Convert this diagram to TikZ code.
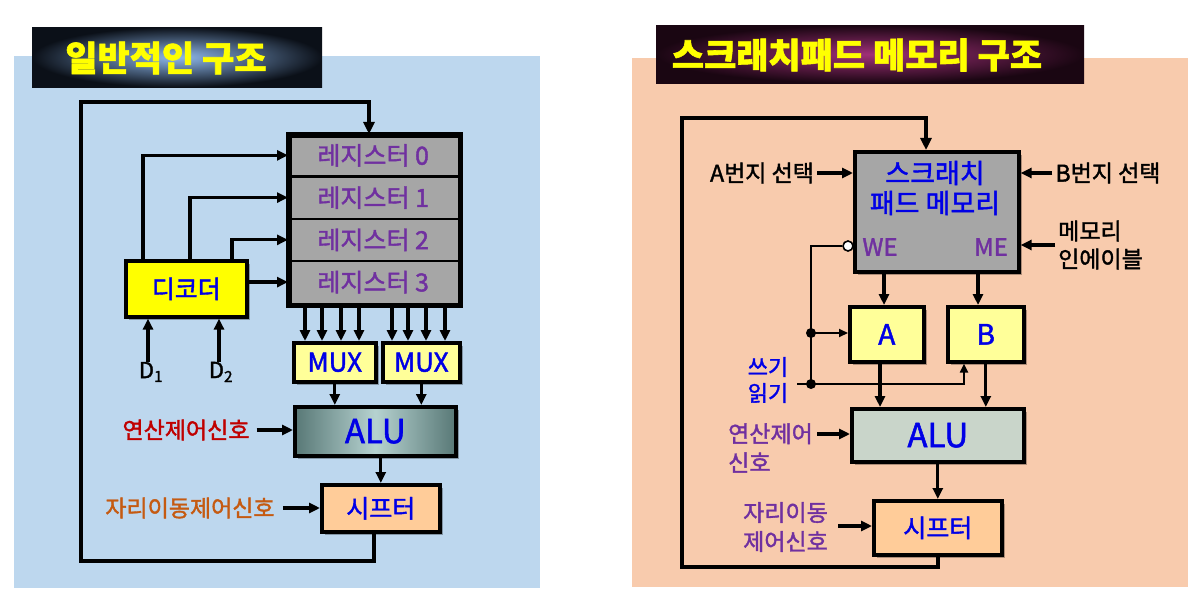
\documentclass[tikz,border=0pt]{standalone}
\usepackage{fontspec}
\setmainfont{Noto Sans CJK KR}[FakeBold=1.6]
\usetikzlibrary{arrows.meta,shadows}
\definecolor{bgblue}{HTML}{BDD7EE}
\definecolor{bgpeach}{HTML}{F8CBAD}
\definecolor{regGray}{HTML}{A6A6A6}
\definecolor{purpleC}{HTML}{7030A0}
\definecolor{blueT}{HTML}{0000E6}
\definecolor{redC}{HTML}{C00000}
\definecolor{orangeC}{HTML}{C55A11}
\definecolor{muxY}{HTML}{FFFF99}
\definecolor{decY}{HTML}{FFFF00}
\definecolor{shiftC}{HTML}{FFCC99}
\definecolor{aluD}{HTML}{587876}
\definecolor{aluL}{HTML}{B6D2D0}
\definecolor{aluR}{HTML}{C9D5CA}
\definecolor{titleY}{HTML}{FFFF00}
\definecolor{glowB}{HTML}{8EB8EC}
\definecolor{darkB}{HTML}{0B1018}
\definecolor{glowM}{HTML}{A03078}
\definecolor{darkM}{HTML}{1A0612}
\tikzset{
  myshadow/.style={drop shadow={shadow xshift=3pt,shadow yshift=-3pt,opacity=0.3,fill=black}},
  arr/.style={line width=3.2pt,-{Triangle[length=11pt,width=10pt]}},
  tarr/.style={line width=2pt,-{Triangle[length=9pt,width=8pt]}},
  loopline/.style={line width=3.6pt,-{Triangle[length=12pt,width=11pt]}},
  box/.style={draw=black,line width=3.6pt,inner sep=0pt,anchor=north west,myshadow},
  lbl/.style={font=\fontsize{23}{29}\selectfont,inner sep=3pt},
  regtxt/.style={font=\fontsize{25}{28}\selectfont,text=purpleC,inner sep=0pt},
  boxtxt/.style={text=blueT,font=\fontsize{25}{28}\selectfont},
  dotn/.style={circle,fill=black,inner sep=0pt,minimum size=10pt},
  titletxt/.style={text=titleY,font=\fontsize{35}{40}\selectfont\bfseries},
}
\begin{document}
\begin{tikzpicture}[x=1pt,y=-1pt]
\useasboundingbox (0,0) rectangle (1204,604);
\fill[white] (0,0) rectangle (1204,604);
% ================= LEFT PANEL =================
\fill[bgblue] (14,56) rectangle (540,588);
\node[anchor=north west,minimum width=290pt,minimum height=60pt,inner sep=0pt,
      inner color=glowB,outer color=darkB] (tL) at (32,27) {};
\node[titletxt] (tLt) at (166,58) {일반적인 구조};
% registers
\node[box,fill=regGray,minimum width=170pt,minimum height=169pt] (regs) at (288,134) {};
\foreach \i in {0,...,3}
  \node[regtxt,minimum width=170pt,minimum height=42.25pt,anchor=north west] (reg\i) at (288,{134+42.25*\i}) {레지스터 \i};
\foreach \i in {0,1,2}
  \draw[line width=2.4pt] (reg\i.south west) -- (reg\i.south east);
\draw[line width=3.6pt] (regs.north west) rectangle (regs.south east);
% decoder
\node[box,fill=decY,minimum width=121pt,minimum height=56pt,boxtxt] (dec) at (124,259) {디코더};
\coordinate (c0) at (143,0);
\coordinate (c1) at (190,0);
\coordinate (c2) at (232,0);
\draw[arr] (dec.north -| c0) |- (reg0.west);
\draw[arr] (dec.north -| c1) |- (reg1.west);
\draw[arr] (dec.north -| c2) |- (reg2.west);
\draw[arr] (dec.east |- reg3.west) -- (reg3.west);
% D1 D2
\node[font=\fontsize{22}{26}\selectfont,inner sep=2pt] (d1) at (151,372) {D\textsubscript{1}};
\node[font=\fontsize{22}{26}\selectfont,inner sep=2pt] (d2) at (221,372) {D\textsubscript{2}};
\coordinate (dx1) at (148,0);
\coordinate (dx2) at (219,0);
\draw[arr] ([yshift=-2pt]d1.north -| dx1) -- (dec.south -| dx1);
\draw[arr] ([yshift=-2pt]d2.north -| dx2) -- (dec.south -| dx2);
% MUX
\node[box,fill=muxY,minimum width=82pt,minimum height=39pt,text=blueT,font=\fontsize{26}{28}\selectfont] (mux1) at (292,341) {MUX};
\node[box,fill=muxY,minimum width=77pt,minimum height=39pt,text=blueT,font=\fontsize{26}{28}\selectfont] (mux2) at (381,341) {MUX};
\foreach \x in {305,322,341,359} {
  \coordinate (t) at (\x,0);
  \draw[arr] (regs.south -| t) -- (mux1.north -| t);
}
\foreach \x in {392,408,426,445} {
  \coordinate (t) at (\x,0);
  \draw[arr] (regs.south -| t) -- (mux2.north -| t);
}
% ALU
\node[box,minimum width=161pt,minimum height=49pt,left color=aluD,right color=aluD,middle color=aluL,
      text=blueT,font=\fontsize{33}{36}\selectfont] (alu) at (293,405) {ALU};
\draw[arr] (mux1.south) -- (alu.north -| mux1.south);
\draw[arr] (mux2.south) -- (alu.north -| mux2.south);
\node[lbl,text=redC] (opL) at (186,430) {연산제어신호};
\draw[arr] ([xshift=4pt]opL.east) -- (alu.west |- opL.east);
% shifter
\node[box,fill=shiftC,minimum width=118pt,minimum height=47pt,boxtxt] (sh) at (320,483) {시프터\hspace{8pt}};
\draw[arr] (alu.south -| sh.north) -- (sh.north);
\node[lbl,text=orangeC] (shL) at (190,508) {자리이동제어신호};
\draw[arr] ([xshift=5pt]shL.east) -- (sh.west |- shL.east);
% loop
\coordinate (lb) at (81,561);
\coordinate (lt) at (81,102);
\coordinate (lx) at (369,0);
\coordinate (sx) at (374,0);
\draw[loopline] (sh.south -| sx) -- (lb -| sx) -- (lb) -- (lt) -- (lt -| lx) -- (regs.north -| lx);
% ================= RIGHT PANEL =================
\fill[bgpeach] (632,58) rectangle (1188,587);
\node[anchor=north west,minimum width=428pt,minimum height=58pt,inner sep=0pt,
      inner color=glowM,outer color=darkM] (tR) at (656,25) {};
\node[titletxt] (tRt) at (857,55) {스크래치패드 메모리 구조};
% scratchpad memory
\node[box,fill=regGray,minimum width=164pt,minimum height=120pt] (spm) at (853,150) {};
\node[text=blueT,font=\fontsize{27}{30}\selectfont,align=center,inner sep=0pt] (spmt) at (935,188) {스크래치\\패드 메모리};
\node[text=purpleC,font=\fontsize{24}{26}\selectfont,inner sep=0pt] (we) at (880,247) {WE};
\node[text=purpleC,font=\fontsize{24}{26}\selectfont,inner sep=0pt] (me) at (991,247) {ME};
\node[lbl] (asel) at (762,173) {A번지 선택};
\draw[arr] (asel.east) -- (spm.west |- asel.east);
\node[lbl] (bsel) at (1108,173) {B번지 선택};
\draw[arr] (bsel.west) -- (spm.east |- bsel.west);
\node[lbl,align=left,anchor=west,font=\fontsize{23}{28}\selectfont] (men) at (1055,245) {메모리\\인에이블};
\draw[arr] (men.west) -- (spm.east |- men.west);
% A, B registers
\node[box,fill=muxY,minimum width=74pt,minimum height=55pt,text=blueT,font=\fontsize{28}{30}\selectfont] (Abox) at (848,305) {A};
\node[box,fill=muxY,minimum width=76pt,minimum height=55pt,text=blueT,font=\fontsize{28}{30}\selectfont] (Bbox) at (946,305) {B};
\coordinate (ax) at (884,0);
\coordinate (bx) at (978,0);
\draw[arr] (spm.south -| ax) -- (Abox.north -| ax);
\draw[arr] (spm.south -| bx) -- (Bbox.north -| bx);
% WE / read-write control
\node[circle,draw=black,fill=white,line width=1.6pt,inner sep=0pt,minimum size=10pt] (wec) at (848,246) {};
\node[dotn] (ja) at (811,333) {};
\node[dotn] (jr) at (811,384) {};
\draw[line width=2pt] (wec.west) -| (jr.center);
\draw[tarr] (ja.center) -- (Abox.west |- ja.center);
\coordinate (rd) at (797,384);
\coordinate (bup) at (964,0);
\draw[tarr] (rd) -| (Bbox.south -| bup);
\node[text=blueT,font=\fontsize{22}{26}\selectfont,align=center,inner sep=0pt] (rw) at (768,380) {쓰기\\읽기};
% ALU right
\node[box,fill=aluR,minimum width=172pt,minimum height=53pt,text=blueT,font=\fontsize{33}{36}\selectfont] (alu2) at (850,407) {ALU\hspace{18pt}};
\coordinate (ax2) at (880,0);
\draw[arr] (Abox.south -| ax2) -- (alu2.north -| ax2);
\draw[arr] (Bbox.south) -- (alu2.north -| Bbox.south);
\node[lbl,align=left,anchor=west,text=purpleC] (opR) at (725,448) {연산제어\\신호};
\coordinate (opa) at (817,434);
\draw[arr] (opa) -- (alu2.west |- opa);
% shifter right
\node[box,fill=shiftC,minimum width=128pt,minimum height=54pt,boxtxt] (sh2) at (872,499) {시프터\hspace{18pt}};
\draw[arr] (alu2.south -| sh2.north) -- (sh2.north);
\node[lbl,align=left,anchor=west,text=purpleC] (shR) at (740,527) {자리이동\\제어신호};
\coordinate (sha) at (838,526);
\draw[arr] (sha) -- (sh2.west |- sha);
% loop right
\coordinate (rb) at (682,567);
\coordinate (rt) at (682,118);
\coordinate (rtx) at (926,0);
\draw[loopline] (sh2.south) -- (sh2.south |- rb) -- (rb) -- (rt) -- (rt -| rtx) -- (spm.north -| rtx);
\end{tikzpicture}
\end{document}
